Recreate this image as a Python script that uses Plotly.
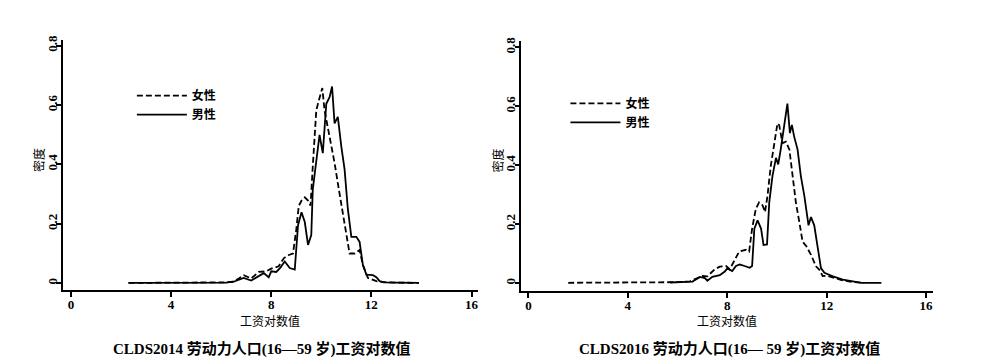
import plotly.graph_objects as go

# ---------------- data ----------------
# CLDS2014 (left panel)
f14_x = [2.3, 4.0, 5.5, 6.2, 6.5, 6.9, 7.2, 7.5, 7.8, 8.0, 8.3, 8.5, 8.7, 8.87, 9.0, 9.1, 9.21, 9.34,
         9.47, 9.57, 9.66, 9.8, 9.9, 10.04, 10.13, 10.26, 10.4, 10.53, 10.7, 10.86, 11.0, 11.13, 11.33,
         11.53, 11.66, 11.86, 12.2, 12.46, 13.0, 13.9]
f14_y = [0.001, 0.001, 0.001, 0.003, 0.005, 0.027, 0.016, 0.038, 0.04, 0.049, 0.057, 0.084, 0.095, 0.1,
         0.18, 0.26, 0.278, 0.289, 0.278, 0.261, 0.394, 0.582, 0.615, 0.657, 0.582, 0.527, 0.471, 0.405,
         0.316, 0.239, 0.162, 0.1, 0.1, 0.112, 0.062, 0.018, 0.007, 0.004, 0.002, 0.001]
m14_x = [2.3, 4.0, 5.5, 6.2, 6.5, 6.9, 7.2, 7.5, 7.7, 7.9, 8.0, 8.2, 8.35, 8.54, 8.74, 8.94, 9.07, 9.21,
         9.34, 9.47, 9.6, 9.66, 9.8, 9.93, 10.06, 10.2, 10.33, 10.43, 10.53, 10.66, 10.8, 10.93, 11.06,
         11.2, 11.4, 11.53, 11.66, 11.8, 12.06, 12.2, 12.33, 12.5, 13.0, 13.9]
m14_y = [0.001, 0.001, 0.001, 0.002, 0.005, 0.018, 0.009, 0.023, 0.034, 0.02, 0.04, 0.038, 0.051, 0.073,
         0.051, 0.046, 0.195, 0.239, 0.206, 0.129, 0.162, 0.316, 0.416, 0.499, 0.438, 0.604, 0.626, 0.662,
         0.538, 0.56, 0.46, 0.383, 0.25, 0.156, 0.156, 0.139, 0.062, 0.029, 0.027, 0.02, 0.007, 0.003,
         0.002, 0.001]

# CLDS2016 (right panel)
f16_x = [1.6, 3.0, 4.5, 5.5, 6.0, 6.5, 7.0, 7.2, 7.5, 7.7, 7.95, 8.1, 8.3, 8.48, 8.75, 8.88, 9.0, 9.15,
         9.28, 9.42, 9.52, 9.62, 9.75, 9.89, 10.02, 10.09, 10.22, 10.36, 10.5, 10.63, 10.76, 10.9, 11.03,
         11.19, 11.37, 11.57, 11.71, 11.84, 12.0, 12.3, 12.6, 13.0, 13.5]
f16_y = [0.001, 0.001, 0.002, 0.002, 0.003, 0.006, 0.024, 0.023, 0.047, 0.056, 0.058, 0.047, 0.08, 0.107,
         0.113, 0.107, 0.185, 0.252, 0.274, 0.264, 0.241, 0.297, 0.397, 0.475, 0.542, 0.536, 0.475, 0.48,
         0.453, 0.364, 0.274, 0.207, 0.141, 0.124, 0.096, 0.057, 0.045, 0.024, 0.025, 0.018, 0.01, 0.004,
         0.001]
m16_x = [5.7, 6.0, 6.6, 6.9, 7.1, 7.2, 7.4, 7.7, 7.9, 8.0, 8.2, 8.35, 8.5, 8.7, 8.9, 9.0, 9.09, 9.22,
         9.36, 9.46, 9.6, 9.69, 9.82, 9.96, 10.05, 10.15, 10.29, 10.42, 10.52, 10.6, 10.69, 10.83, 10.96,
         11.1, 11.27, 11.37, 11.5, 11.64, 11.77, 11.91, 12.25, 12.65, 13.0, 13.4, 14.2]
m16_y = [0.002, 0.003, 0.005, 0.021, 0.017, 0.008, 0.021, 0.027, 0.039, 0.05, 0.041, 0.058, 0.063, 0.058,
         0.052, 0.058, 0.185, 0.213, 0.185, 0.129, 0.131, 0.274, 0.364, 0.425, 0.403, 0.453, 0.531, 0.609,
         0.509, 0.537, 0.498, 0.453, 0.364, 0.297, 0.196, 0.224, 0.196, 0.118, 0.051, 0.035, 0.023, 0.012,
         0.006, 0.001, 0.001]

x_ticks = [0, 4, 8, 12, 16]
y_ticks = [0, 0.2, 0.4, 0.6, 0.8]
y_tick_text = ["0", "0.2", "0.4", "0.6", "0.8"]
female_name = "女性"
male_name = "男性"
x_title = "工资对数值"
y_title = "密度"
captions = ["CLDS2014 劳动力人口(16—59 岁)工资对数值", "CLDS2016 劳动力人口(16— 59 岁)工资对数值"]

# ---------------- figure ----------------
# page body has an 8px margin, so the figure is offset by 8px
OFF = 8
W, H = 983 - 2 * OFF, 364 - OFF
SERIF = "Liberation Serif, Noto Sans CJK SC"
CJK = "Noto Sans CJK SC"

fig = go.Figure()
dash = "6px,3px"
lw = 1.8

fig.add_trace(go.Scatter(x=f14_x, y=f14_y, mode="lines", name=female_name,
                         line=dict(color="black", width=lw, dash=dash), xaxis="x", yaxis="y", legend="legend"))
fig.add_trace(go.Scatter(x=m14_x, y=m14_y, mode="lines", name=male_name,
                         line=dict(color="black", width=lw), xaxis="x", yaxis="y", legend="legend"))
fig.add_trace(go.Scatter(x=f16_x, y=f16_y, mode="lines", name=female_name,
                         line=dict(color="black", width=lw, dash=dash), xaxis="x2", yaxis="y2", legend="legend2"))
fig.add_trace(go.Scatter(x=m16_x, y=m16_y, mode="lines", name=male_name,
                         line=dict(color="black", width=lw), xaxis="x2", yaxis="y2", legend="legend2"))

def px_x(p):
    return (p - OFF) / W

def px_y(p):
    return 1 - (p - OFF) / H

common_x = dict(showgrid=False, zeroline=False, showline=True, linecolor="black", linewidth=1.8,
                ticks="outside", ticklen=5, tickwidth=1.5, tickcolor="black", ticklabelstandoff=-4,
                tickvals=x_ticks, tickfont=dict(family=SERIF, size=13, color="black", weight="bold"))
common_y = dict(showgrid=False, zeroline=False, showline=True, linecolor="black", linewidth=1.8,
                ticks="outside", ticklen=5, tickwidth=1.5, tickcolor="black", ticklabelstandoff=-6,
                tickvals=y_ticks, ticktext=y_tick_text, tickangle=-90,
                tickfont=dict(family=SERIF, size=13, color="black", weight="bold"))

fig.update_layout(
    width=W, height=H, margin=dict(l=0, r=0, t=0, b=0),
    paper_bgcolor="white", plot_bgcolor="white",
    xaxis=dict(common_x, domain=[px_x(63), px_x(478)], range=[-0.32, 16.24], anchor="y"),
    yaxis=dict(common_y, domain=[px_y(289), px_y(35)], range=[-0.023, 0.82], anchor="x"),
    xaxis2=dict(common_x, domain=[px_x(522), px_x(934)], range=[-0.28, 16.28], anchor="y2"),
    yaxis2=dict(common_y, domain=[px_y(290), px_y(36)], range=[-0.027, 0.823], anchor="x2"),
    legend=dict(x=px_x(132), y=px_y(77), xanchor="left", yanchor="top", bgcolor="rgba(0,0,0,0)",
                font=dict(family=CJK, size=12, color="black", weight="bold"), itemwidth=50, tracegroupgap=0),
    legend2=dict(x=px_x(566), y=px_y(85), xanchor="left", yanchor="top", bgcolor="rgba(0,0,0,0)",
                 font=dict(family=CJK, size=12, color="black", weight="bold"), itemwidth=50, tracegroupgap=0),
    showlegend=True,
)

# axis titles (placed as annotations for tight spacing)
for xc, yc in [(px_x(270), px_y(320)), (px_x(728), px_y(320))]:
    fig.add_annotation(x=xc, y=yc, xref="paper", yref="paper", text=x_title, showarrow=False,
                       xanchor="center", yanchor="middle", font=dict(family=CJK, size=12, color="black"))
for xc, yc in [(px_x(39), px_y(157)), (px_x(498), px_y(157))]:
    fig.add_annotation(x=xc, y=yc, xref="paper", yref="paper", text=y_title, showarrow=False, textangle=-90,
                       xanchor="center", yanchor="middle", font=dict(family=CJK, size=12, color="black"))

for cx, txt in zip([px_x(262), px_x(730)], captions):
    fig.add_annotation(x=cx, y=px_y(349), xref="paper", yref="paper", text="<b>" + txt + "</b>",
                       showarrow=False, xanchor="center", yanchor="middle",
                       font=dict(family=SERIF, size=15, color="black"))

fig.write_html("out.html")
